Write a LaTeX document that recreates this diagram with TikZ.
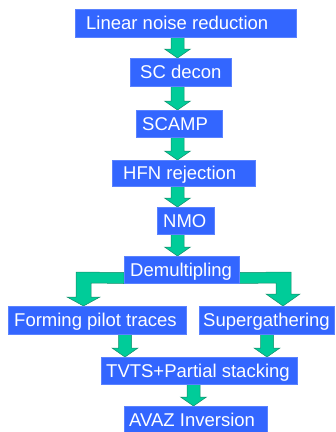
\documentclass[tikz,border=0pt]{standalone}
\usepackage{fontspec}
\setmainfont{Liberation Sans}
\usetikzlibrary{calc}
\pgfdeclarelayer{bg}
\pgfsetlayers{bg,main}
\definecolor{boxblue}{RGB}{51,102,255}
\definecolor{boxedge}{RGB}{90,130,255}
\definecolor{arrgreen}{RGB}{0,204,153}
\definecolor{arredge}{RGB}{20,140,105}
\tikzset{
  box/.style={fill=boxblue, draw=boxedge, line width=0.5pt, inner sep=0pt, anchor=north west},
  txt/.style={text=white, font=\fontsize{18.5pt}{20pt}\selectfont, inner sep=0pt, text height=13.2pt, text depth=0pt, anchor=west},
  garrow/.style={fill=arrgreen, draw=arredge, line width=0.5pt, line join=miter}
}
% straight block arrow: #1 upper node, #2 lower node, #3 x centre (pt)
\newcommand\garr[3]{%
  \path let \p1=(#1.south), \p2=(#2.north) in
    [garrow] ({#3pt-6.5pt},\y1) -- ({#3pt+6.5pt},\y1) -- ({#3pt+6.5pt},{\y2+9pt})
    -- ({#3pt+13pt},{\y2+9pt}) -- ({#3pt},\y2) -- ({#3pt-13pt},{\y2+9pt})
    -- ({#3pt-6.5pt},{\y2+9pt}) -- cycle;}
\begin{document}
\begin{tikzpicture}[x=1pt,y=-1pt]
\useasboundingbox (0,0) rectangle (336,432);
% boxes
\node[box, minimum width=221pt, minimum height=28pt] (b1) at (75,9) {};
\node[txt] (t1) at (86,23) {Linear noise reduction};
\node[box, minimum width=101pt, minimum height=28pt] (b2) at (130,58) {};
\node[txt] (t2) at (140,72) {SC decon};
\node[box, minimum width=86pt, minimum height=27pt] (b3) at (136,110) {};
\node[txt] (t3) at (142,123.5) {SCAMP};
\node[box, minimum width=143pt, minimum height=26pt] (b4) at (112,160) {};
\node[txt] (t4) at (123,173) {HFN rejection};
\node[box, minimum width=57pt, minimum height=27pt] (b5) at (157,207) {};
\node[txt] (t5) at (163,220.5) {NMO};
\node[box, minimum width=115pt, minimum height=27pt] (b6) at (124,256) {};
\node[txt] (t6) at (130,269.5) {Demultipling};
\node[box, minimum width=178pt, minimum height=28pt] (b7) at (8,306) {};
\node[txt] (t7) at (14,320) {Forming pilot traces};
\node[box, minimum width=135pt, minimum height=28pt] (b8) at (199,306) {};
\node[txt] (t8) at (203,320) {Supergathering};
\node[box, minimum width=196pt, minimum height=27pt] (b9) at (101,357) {};
\node[txt] (t9) at (106,370.5) {TVTS+Partial stacking};
\node[box, minimum width=143pt, minimum height=27pt] (b10) at (124,406) {};
\node[txt] (t10) at (129,419.5) {AVAZ Inversion};
% arrows
\begin{pgfonlayer}{bg}
\garr{b1}{b2}{177.5}
\garr{b2}{b3}{177.5}
\garr{b3}{b4}{177.5}
\garr{b4}{b5}{177.5}
\garr{b5}{b6}{177.5}
\garr{b7}{b9}{125}
\garr{b8}{b9}{267}
\garr{b9}{b10}{193.5}
% bent arrows
\path[garrow] (b6.south west) -- ($(b6.south west)+(0,-11)$) -- (76,272) -- (76,297)
  -- (67,297) -- (83.5,0 |- b7.north) -- (100,297) -- (91,297) -- (91,283) -- cycle;
\path[garrow] (b6.south east) -- ($(b6.south east)+(0,-11)$) -- (291,272) -- (291,294)
  -- (300,294) -- (283,0 |- b8.north) -- (266,294) -- (276,294) -- (276,283) -- cycle;
\end{pgfonlayer}
\end{tikzpicture}
\end{document}
